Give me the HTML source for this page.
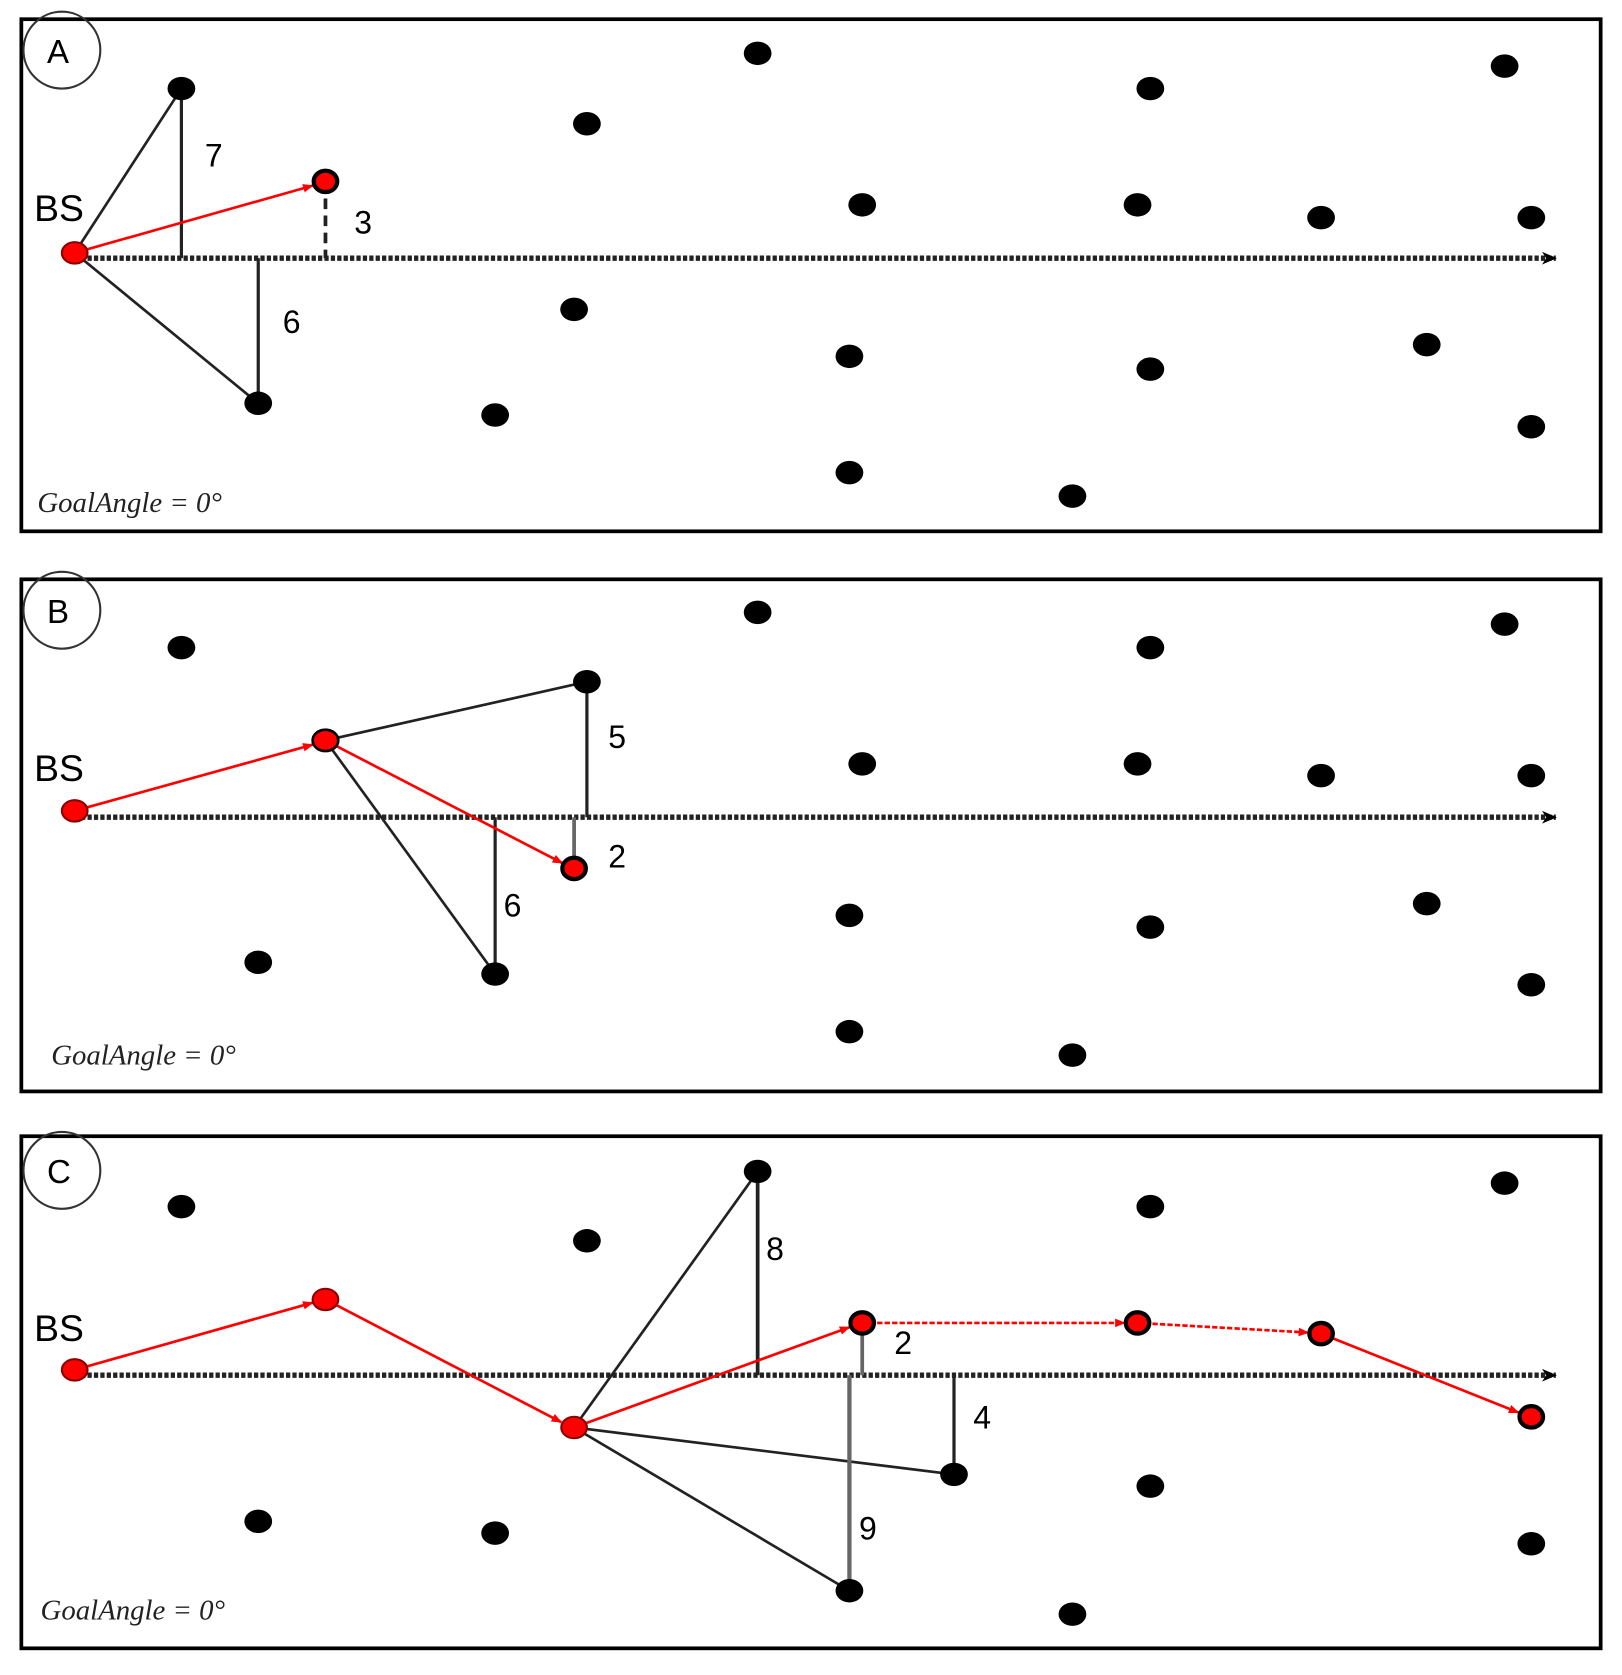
<!DOCTYPE html>
<html><head><meta charset="utf-8"><style>html,body{margin:0;padding:0;background:#fff}svg{display:block}</style></head>
<body>
<svg width="1622" height="1675" viewBox="0 0 1520 1570" preserveAspectRatio="none" xmlns="http://www.w3.org/2000/svg">
<defs>
<marker id="ar" markerWidth="10" markerHeight="8" refX="9" refY="4" orient="auto" markerUnits="userSpaceOnUse"><path d="M0,0 L10,4 L0,8 z" fill="#f00"/></marker>
<marker id="ak" markerWidth="14" markerHeight="12" refX="13" refY="6" orient="auto" markerUnits="userSpaceOnUse"><path d="M0,0 L14,6 L0,12 L4,6 z" fill="#000"/></marker>
</defs>
<rect width="1520" height="1570" fill="#fff"/>
<g font-family="Liberation Sans, sans-serif" fill="#000">

<!-- Panel A -->
<rect x="20" y="18" width="1480" height="480" fill="none" stroke="#000" stroke-width="3.5"/>
<circle cx="58" cy="47" r="36" fill="none" stroke="#333" stroke-width="2"/>
<text x="44" y="59" font-size="31">A</text>
<text x="32" y="207" font-size="35">BS</text>
<line x1="70" y1="242" x2="1458" y2="242" stroke="#222" stroke-width="5" stroke-dasharray="4,2" marker-end="url(#ak)"/>
<g stroke="#222" stroke-width="2.5" fill="none">
<line x1="70" y1="237" x2="170" y2="83"/><line x1="170" y1="83" x2="170" y2="242" stroke-width="3"/>
<line x1="70" y1="237" x2="242" y2="378"/><line x1="242" y1="242" x2="242" y2="378" stroke-width="3"/>
<line x1="305" y1="170" x2="305" y2="242" stroke-dasharray="10,6" stroke-width="3.5"/>
</g>
<line x1="70" y1="237" x2="293" y2="174" stroke="#f00" stroke-width="2.5" marker-end="url(#ar)"/>
<text x="192" y="156" font-size="30">7</text><text x="265" y="312" font-size="30">6</text><text x="332" y="219" font-size="30">3</text>
<g>
<ellipse cx="170" cy="83" rx="13" ry="11"/><ellipse cx="710" cy="50" rx="13" ry="11"/><ellipse cx="550" cy="116" rx="13" ry="11"/><ellipse cx="1078" cy="83" rx="13" ry="11"/><ellipse cx="1410" cy="62" rx="13" ry="11"/><ellipse cx="808" cy="192" rx="13" ry="11"/><ellipse cx="1066" cy="192" rx="13" ry="11"/><ellipse cx="1238" cy="204" rx="13" ry="11"/><ellipse cx="1435" cy="204" rx="13" ry="11"/><ellipse cx="538" cy="290" rx="13" ry="11"/><ellipse cx="796" cy="334" rx="13" ry="11"/><ellipse cx="1078" cy="346" rx="13" ry="11"/><ellipse cx="1337" cy="323" rx="13" ry="11"/><ellipse cx="242" cy="378" rx="13" ry="11"/><ellipse cx="464" cy="389" rx="13" ry="11"/><ellipse cx="1435" cy="400" rx="13" ry="11"/><ellipse cx="796" cy="443" rx="13" ry="11"/><ellipse cx="1005" cy="465" rx="13" ry="11"/>
</g>
<ellipse cx="70" cy="237" rx="12" ry="10" fill="#f00" stroke="#800" stroke-width="2"/>
<ellipse cx="305" cy="170" rx="11" ry="10" fill="#f00" stroke="#000" stroke-width="4"/>
<text x="35" y="480" font-size="27" font-style="italic" font-family="Liberation Serif, serif" fill="#222">GoalAngle = 0°</text>

<!-- Panel B -->
<rect x="20" y="543" width="1480" height="480" fill="none" stroke="#000" stroke-width="3.5"/>
<circle cx="58" cy="572" r="36" fill="none" stroke="#333" stroke-width="2"/>
<text x="44" y="584" font-size="31">B</text>
<text x="32" y="732" font-size="35">BS</text>
<line x1="70" y1="766" x2="1458" y2="766" stroke="#222" stroke-width="5" stroke-dasharray="4,2" marker-end="url(#ak)"/>
<g stroke="#222" stroke-width="2.5" fill="none">
<line x1="305" y1="694" x2="550" y2="639"/><line x1="550" y1="639" x2="550" y2="766" stroke-width="3"/>
<line x1="305" y1="694" x2="464" y2="913"/><line x1="464" y1="766" x2="464" y2="913" stroke-width="3"/>
<line x1="538" y1="766" x2="538" y2="814" stroke="#666" stroke-width="3.5"/>
</g>
<line x1="70" y1="760" x2="293" y2="698" stroke="#f00" stroke-width="2.5" marker-end="url(#ar)"/>
<line x1="305" y1="694" x2="527" y2="809" stroke="#f00" stroke-width="2.5" marker-end="url(#ar)"/>
<text x="570" y="701" font-size="30">5</text><text x="472" y="859" font-size="30">6</text><text x="570" y="813" font-size="30">2</text>
<g>
<ellipse cx="170" cy="607" rx="13" ry="11"/><ellipse cx="710" cy="574" rx="13" ry="11"/><ellipse cx="1078" cy="607" rx="13" ry="11"/><ellipse cx="1410" cy="585" rx="13" ry="11"/><ellipse cx="550" cy="639" rx="13" ry="11"/><ellipse cx="808" cy="716" rx="13" ry="11"/><ellipse cx="1066" cy="716" rx="13" ry="11"/><ellipse cx="1238" cy="727" rx="13" ry="11"/><ellipse cx="1435" cy="727" rx="13" ry="11"/><ellipse cx="796" cy="858" rx="13" ry="11"/><ellipse cx="1078" cy="869" rx="13" ry="11"/><ellipse cx="1337" cy="847" rx="13" ry="11"/><ellipse cx="242" cy="902" rx="13" ry="11"/><ellipse cx="464" cy="913" rx="13" ry="11"/><ellipse cx="1435" cy="923" rx="13" ry="11"/><ellipse cx="796" cy="967" rx="13" ry="11"/><ellipse cx="1005" cy="989" rx="13" ry="11"/>
</g>
<ellipse cx="70" cy="760" rx="12" ry="10" fill="#f00" stroke="#800" stroke-width="2"/>
<ellipse cx="305" cy="694" rx="12" ry="10" fill="#f00" stroke="#000" stroke-width="2.5"/>
<ellipse cx="538" cy="814" rx="11" ry="10" fill="#f00" stroke="#000" stroke-width="4"/>
<text x="48" y="998" font-size="27" font-style="italic" font-family="Liberation Serif, serif" fill="#222">GoalAngle = 0°</text>

<!-- Panel C -->
<rect x="20" y="1065" width="1480" height="480" fill="none" stroke="#000" stroke-width="3.5"/>
<circle cx="58" cy="1097" r="36" fill="none" stroke="#333" stroke-width="2"/>
<text x="44" y="1109" font-size="31">C</text>
<text x="32" y="1257" font-size="35">BS</text>
<line x1="70" y1="1289" x2="1458" y2="1289" stroke="#222" stroke-width="5" stroke-dasharray="4,2" marker-end="url(#ak)"/>
<g stroke="#222" stroke-width="2.5" fill="none">
<line x1="538" y1="1338" x2="710" y2="1098"/><line x1="710" y1="1098" x2="710" y2="1289" stroke-width="3.5"/>
<line x1="538" y1="1338" x2="894" y2="1382"/><line x1="894" y1="1289" x2="894" y2="1382" stroke-width="3"/>
<line x1="538" y1="1338" x2="796" y2="1491"/><line x1="796" y1="1289" x2="796" y2="1491" stroke="#666" stroke-width="4"/>
<line x1="808" y1="1240" x2="808" y2="1289" stroke="#666" stroke-width="3.5"/>
</g>
<g stroke="#f00" stroke-width="2.5" marker-end="url(#ar)">
<line x1="70" y1="1284" x2="293" y2="1221"/>
<line x1="305" y1="1218" x2="526" y2="1333"/>
<line x1="538" y1="1338" x2="796" y2="1244"/>
<line x1="808" y1="1240" x2="1054" y2="1240" stroke-dasharray="5,2"/>
<line x1="1066" y1="1240" x2="1226" y2="1249" stroke-dasharray="5,2"/>
<line x1="1238" y1="1250" x2="1423" y2="1324"/>
</g>
<text x="718" y="1181" font-size="30">8</text><text x="838" y="1269" font-size="30">2</text><text x="912" y="1339" font-size="30">4</text><text x="805" y="1443" font-size="30">9</text>
<g>
<ellipse cx="170" cy="1131" rx="13" ry="11"/><ellipse cx="710" cy="1098" rx="13" ry="11"/><ellipse cx="550" cy="1163" rx="13" ry="11"/><ellipse cx="1078" cy="1131" rx="13" ry="11"/><ellipse cx="1410" cy="1109" rx="13" ry="11"/><ellipse cx="894" cy="1382" rx="13" ry="11"/><ellipse cx="1078" cy="1393" rx="13" ry="11"/><ellipse cx="242" cy="1426" rx="13" ry="11"/><ellipse cx="464" cy="1437" rx="13" ry="11"/><ellipse cx="1435" cy="1447" rx="13" ry="11"/><ellipse cx="796" cy="1491" rx="13" ry="11"/><ellipse cx="1005" cy="1513" rx="13" ry="11"/>
</g>
<g fill="#f00" stroke="#000" stroke-width="4">
<ellipse cx="70" cy="1284" rx="12" ry="10" stroke="#800" stroke-width="2"/>
<ellipse cx="305" cy="1218" rx="12" ry="10" stroke="#800" stroke-width="2"/>
<ellipse cx="538" cy="1338" rx="12" ry="10" stroke="#800" stroke-width="2"/>
<ellipse cx="808" cy="1240" rx="11" ry="10"/>
<ellipse cx="1066" cy="1240" rx="11" ry="10"/>
<ellipse cx="1238" cy="1250" rx="11" ry="10"/>
<ellipse cx="1435" cy="1328" rx="11" ry="10"/>
</g>
<text x="38" y="1518" font-size="27" font-style="italic" font-family="Liberation Serif, serif" fill="#222">GoalAngle = 0°</text>
</g>
</svg>
</body></html>
